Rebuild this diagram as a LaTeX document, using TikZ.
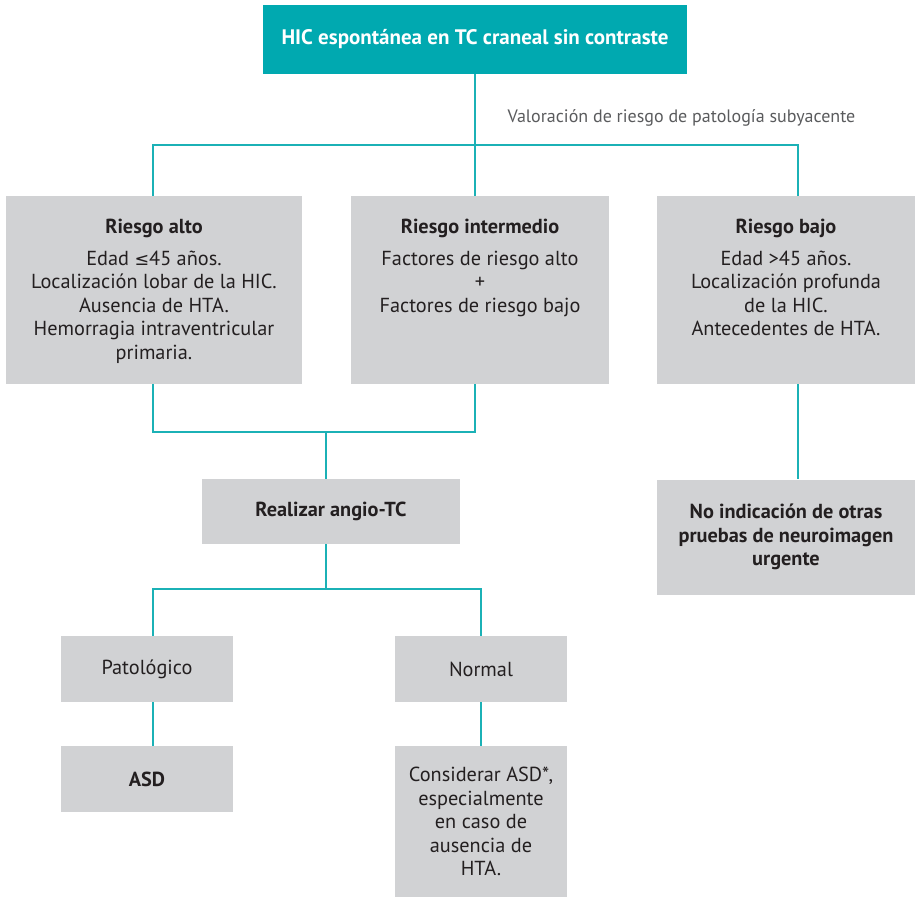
\documentclass[tikz,border=0pt]{standalone}
\usepackage{fontspec}
\setmainfont{PT Sans}
\newfontfamily\symfont{DejaVu Sans}
\definecolor{tealfill}{HTML}{00A9B0}
\definecolor{tealline}{HTML}{1BB1B6}
\definecolor{boxgrey}{HTML}{D1D2D4}
\definecolor{ink}{HTML}{231F20}
\definecolor{notegrey}{HTML}{5A5B5D}
\begin{document}
\begin{tikzpicture}[x=1pt,y=-1pt,
  box/.style={fill=boxgrey, draw=none, inner sep=0pt},
  boxtext/.style={text=ink, align=center, inner sep=0pt,
    font=\fontsize{20.3}{23.5}\selectfont},
  boldtext/.style={boxtext, font=\fontsize{20.3}{23.8}\selectfont\bfseries},
  link/.style={draw=tealline, line width=1.4pt}]
\useasboundingbox (0,0) rectangle (917,897);

% header
\node[fill=tealfill, inner sep=0pt, minimum width=424pt, minimum height=69pt,
  text=white, font=\fontsize{21}{24}\selectfont\bfseries] (top) at (475,39.5)
  {HIC espontánea en TC craneal sin contraste};
\node[text=notegrey, inner sep=0pt, font=\fontsize{18}{20}\selectfont]
  (val) at (681.5,118) {Valoración de riesgo de patología subyacente};

% risk boxes
\node[box, minimum width=296pt, minimum height=188pt] (ra) at (154,290) {};
\node[box, minimum width=258pt, minimum height=188pt] (ri) at (480,290) {};
\node[box, minimum width=258pt, minimum height=188pt] (rb) at (786,290) {};
\node[boxtext, anchor=north] (ra-t) at (154,219)
  {{\bfseries Riesgo alto}\\[8pt]
   Edad {\symfont\fontsize{17.5}{20}\selectfont ≤}45 años.\\
   Localización lobar de la HIC.\\
   Ausencia de HTA.\\
   Hemorragia intraventricular\\
   primaria.};
\node[boxtext, anchor=north] (ri-t) at (480,219)
  {{\bfseries Riesgo intermedio}\\[8pt]
   Factores de riesgo alto\\
   +\\
   Factores de riesgo bajo};
\node[boxtext, anchor=north] (rb-t) at (786,219)
  {{\bfseries Riesgo bajo}\\[8pt]
   Edad >45 años.\\
   Localización profunda\\
   de la HIC.\\
   Antecedentes de HTA.};

% follow-up boxes
\node[box, minimum width=258pt, minimum height=65pt, boldtext]
  (at) at (331,511.5) {Realizar angio-TC};
\node[box, minimum width=258pt, minimum height=115pt, boldtext]
  (ni) at (786,537) {No indicación de otras\\pruebas de neuroimagen\\urgente};
\node[box, minimum width=172pt, minimum height=66pt, boxtext] (pa) at (147,669) {Patológico};
\node[box, minimum width=172pt, minimum height=66pt, boxtext] (no) at (481,669) {Normal};
\node[box, minimum width=172pt, minimum height=66pt, boldtext] (asd) at (147,779) {ASD};
\node[box, minimum width=172pt, minimum height=151pt, boxtext] (co) at (481,821.5)
  {Considerar ASD*,\\especialmente\\en caso de\\ausencia de\\HTA.};

% junction points
\coordinate (b1) at (153,145);
\coordinate (b2) at (475,145);
\coordinate (b3) at (798,145);
\coordinate (m1) at (153,432);
\coordinate (m2) at (475,432);
\coordinate (m3) at (326,432);
\coordinate (n1) at (153,589);
\coordinate (n2) at (481,589);
\coordinate (n3) at (326,589);

% connectors
\draw[link] (top.south) -- (b2);
\draw[link] (b1 |- ra.north) -- (b1) -- (b3) -- (b3 |- rb.north);
\draw[link] (b2) -- (b2 |- ri.north);
\draw[link] (m1 |- ra.south) -- (m1) -- (m2) -- (m2 |- ri.south);
\draw[link] (m3) -- (m3 |- at.north);
\draw[link] (b3 |- rb.south) -- (b3 |- ni.north);
\draw[link] (n3 |- at.south) -- (n3);
\draw[link] (n1 |- pa.north) -- (n1) -- (n2) -- (n2 |- no.north);
\draw[link] (n1 |- pa.south) -- (n1 |- asd.north);
\draw[link] (n2 |- no.south) -- (n2 |- co.north);
\end{tikzpicture}
\end{document}
